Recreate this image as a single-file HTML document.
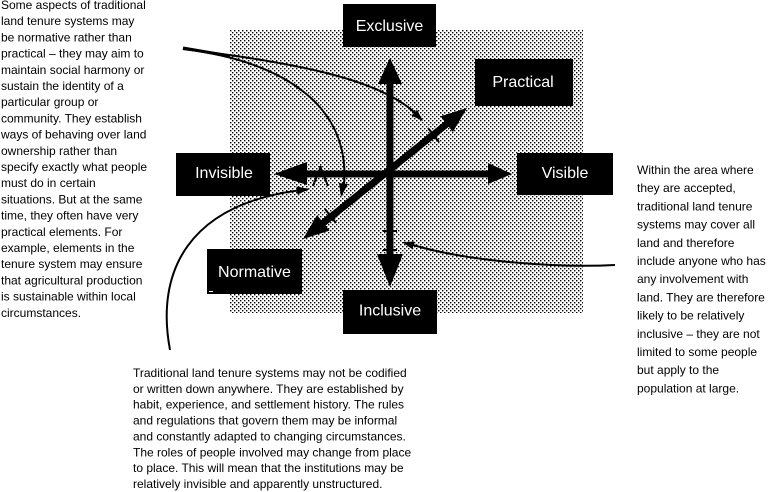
<!DOCTYPE html>
<html><head><meta charset="utf-8"><style>
html,body{margin:0;padding:0;background:#fff;}
svg{display:block;}
text{font-family:"Liberation Sans",Arial,sans-serif;}
.t{font-size:12px;fill:#000;}
.b{font-size:16px;fill:#fff;text-anchor:middle;}
</style></head><body>
<svg width="769" height="492" viewBox="0 0 769 492" xmlns="http://www.w3.org/2000/svg">
<defs>
<pattern id="st" width="4" height="4" patternUnits="userSpaceOnUse">
<rect x="0" y="0" width="1.4" height="1.4" fill="#000"/>
<rect x="2" y="2" width="1.4" height="1.4" fill="#000"/>
</pattern>
</defs>
<rect x="0" y="0" width="769" height="492" fill="#fff"/>
<rect x="230" y="30" width="353" height="283" fill="url(#st)"/>

<!-- thick axes -->
<g fill="#000" stroke="none">
<line x1="390" y1="80" x2="390" y2="258" stroke="#000" stroke-width="7"/>
<polygon points="390,58 378,84 402,84"/>
<polygon points="390,287 377,254 403,254"/>
<line x1="300" y1="174" x2="492" y2="174" stroke="#000" stroke-width="7"/>
<polygon points="274,174 307,162 307,185"/>
<polygon points="512,174 488,163 488,184"/>
<line x1="322" y1="224" x2="448" y2="123" stroke="#000" stroke-width="7"/>
<polygon points="467,108 452.9,132 440.5,116.4"/>
<polygon points="303,239 329.5,230.6 317.1,215"/>
</g>

<!-- ticks -->
<g stroke="#000" stroke-width="2" fill="none">
<line x1="428" y1="128" x2="439" y2="142"/>
<line x1="325" y1="209" x2="336" y2="223"/>
<line x1="313" y1="186" x2="321" y2="166"/>
<line x1="320" y1="166" x2="328" y2="186"/>
<line x1="383" y1="231" x2="397" y2="231"/>
<line x1="383" y1="250" x2="397" y2="250"/>
</g>

<!-- thin connectors -->
<g stroke="#000" stroke-width="2" fill="none">
<path d="M183,49 C 300,63 380,80 415,113"/>
<path d="M183,49 C 290,62 350,110 344,184"/>
<path d="M170,350 C 155,270 190,205 298,190.5"/>
<path d="M615,265 C 560,268 470,262 413,245"/>
<line x1="183" y1="48" x2="230" y2="56" stroke-width="3"/>
</g>
<g fill="#000">
<polygon points="423,121 411.5,115.6 417.1,109.8"/>
<polygon points="341,197 339,183 348,184"/>
<polygon points="310,189 297.5,194.5 296.5,186.5"/>
<polygon points="402,242 414.6,241.6 412.4,249.2"/>
</g>

<!-- boxes -->
<rect x="343" y="4" width="93" height="43" fill="#000"/>
<text class="b" x="389.5" y="31">Exclusive</text>
<rect x="475" y="59" width="98" height="47" fill="#000"/>
<text class="b" x="523" y="87">Practical</text>
<rect x="176" y="153" width="94" height="43" fill="#000"/>
<text class="b" x="224" y="178">Invisible</text>
<rect x="517" y="153" width="96" height="42" fill="#000"/>
<text class="b" x="565" y="178">Visible</text>
<rect x="207" y="249" width="95" height="45" fill="#000"/>
<text class="b" x="254.5" y="277">Normative</text>
<line x1="209" y1="291.5" x2="213" y2="291.5" stroke="#fff" stroke-width="1"/>
<rect x="343" y="290" width="94" height="44" fill="#000"/>
<text class="b" x="390" y="315.5">Inclusive</text>

<!-- left text -->
<g class="t">
<text class="t" x="1" y="9">Some aspects of traditional</text>
<text class="t" x="1" y="25.2">land tenure systems may</text>
<text class="t" x="1" y="41.4">be normative rather than</text>
<text class="t" x="1" y="57.6">practical – they may aim to</text>
<text class="t" x="1" y="73.8">maintain social harmony or</text>
<text class="t" x="1" y="90">sustain the identity of a</text>
<text class="t" x="1" y="106.2">particular group or</text>
<text class="t" x="1" y="122.4">community. They establish</text>
<text class="t" x="1" y="138.6">ways of behaving over land</text>
<text class="t" x="1" y="154.8">ownership rather than</text>
<text class="t" x="1" y="171">specify exactly what people</text>
<text class="t" x="1" y="187.2">must do in certain</text>
<text class="t" x="1" y="203.4">situations. But at the same</text>
<text class="t" x="1" y="219.6">time, they often have very</text>
<text class="t" x="1" y="235.8">practical elements. For</text>
<text class="t" x="1" y="252">example, elements in the</text>
<text class="t" x="1" y="268.2">tenure system may ensure</text>
<text class="t" x="1" y="284.4">that agricultural production</text>
<text class="t" x="1" y="300.6">is sustainable within local</text>
<text class="t" x="1" y="316.8">circumstances.</text>
</g>

<!-- right text -->
<text class="t" x="637" y="174">Within the area where</text>
<text class="t" x="637" y="192.2">they are accepted,</text>
<text class="t" x="637" y="210.4">traditional land tenure</text>
<text class="t" x="637" y="228.6">systems may cover all</text>
<text class="t" x="637" y="246.8">land and therefore</text>
<text class="t" x="637" y="265">include anyone who has</text>
<text class="t" x="637" y="283.2">any involvement with</text>
<text class="t" x="637" y="301.4">land. They are therefore</text>
<text class="t" x="637" y="319.6">likely to be relatively</text>
<text class="t" x="637" y="337.8">inclusive – they are not</text>
<text class="t" x="637" y="356">limited to some people</text>
<text class="t" x="637" y="374.2">but apply to the</text>
<text class="t" x="637" y="392.4">population at large.</text>

<!-- bottom text -->
<text class="t" x="133" y="377">Traditional land tenure systems may not be codified</text>
<text class="t" x="133" y="392.9">or written down anywhere. They are established by</text>
<text class="t" x="133" y="408.7">habit, experience, and settlement history. The rules</text>
<text class="t" x="133" y="424.6">and regulations that govern them may be informal</text>
<text class="t" x="133" y="440.4">and constantly adapted to changing circumstances.</text>
<text class="t" x="133" y="456.3">The roles of people involved may change from place</text>
<text class="t" x="133" y="472.2">to place. This will mean that the institutions may be</text>
<text class="t" x="133" y="488">relatively invisible and apparently unstructured.</text>
</svg>
</body></html>
